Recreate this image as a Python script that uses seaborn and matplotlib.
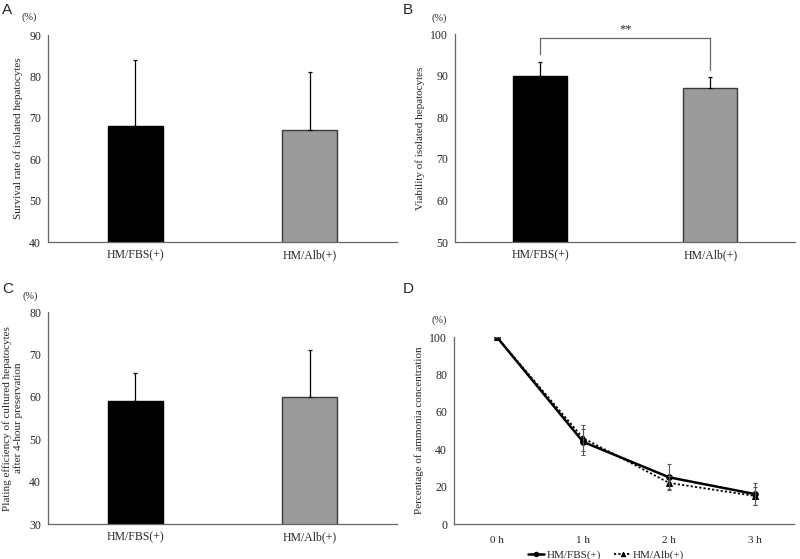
import matplotlib
matplotlib.use("Agg")
import matplotlib.pyplot as plt
import seaborn as sns
import pandas as pd

# data
groups = ["HM/FBS(+)", "HM/Alb(+)"]
survival = [68, 67]
survival_sd = [16, 14]
viability = [90, 87]
viability_sd = [3.3, 2.8]
plating = [59, 60]
plating_sd = [6.7, 11]

hours = ["0 h", "1 h", "2 h", "3 h"]
ammonia_fbs = [100, 44, 25, 16]
ammonia_fbs_sd = [0, 7, 7, 6]
ammonia_alb = [100, 46, 22, 15]
ammonia_alb_sd = [0, 7, 3.5, 5]

sns.set_style("white")
plt.rcParams["font.family"] = ["Liberation Serif", "DejaVu Serif"]
plt.rcParams["font.size"] = 8

bar_colors = ["#000000", "#9b9b9b"]
edge_colors = ["#000000", "#3a3a3a"]
spine_col = "#666666"

fig = plt.figure(figsize=(8, 5.59), dpi=100)


def bar_panel(rect, vals, sds, ylim, step, ylabel):
    ax = fig.add_axes(rect)
    df = pd.DataFrame({"group": groups, "value": vals})
    sns.barplot(data=df, x="group", y="value", hue="group", palette=bar_colors,
                width=0.315, legend=False, ax=ax, saturation=1, errorbar=None)
    for i, p in enumerate(ax.patches):
        p.set_edgecolor(edge_colors[i])
        p.set_linewidth(1.0)
    for i, (v, s) in enumerate(zip(vals, sds)):
        ax.errorbar(i, v, yerr=[[0], [s]], fmt="none", ecolor="black",
                    elinewidth=0.9, capsize=1.5, capthick=0.9, zorder=1)
    ax.set_xlim(-0.5, 1.5)
    ax.set_ylim(*ylim)
    ax.set_yticks(range(ylim[0], ylim[1] + 1, step))
    ax.set_xlabel("")
    ax.set_ylabel(ylabel, fontsize=8, labelpad=4)
    ax.tick_params(axis="both", length=0, labelsize=8.5, pad=5)
    ax.tick_params(axis="x", pad=12)
    for lab in ax.get_xticklabels():
        lab.set_verticalalignment("baseline")
    for sp in ["top", "right"]:
        ax.spines[sp].set_visible(False)
    for sp in ["left", "bottom"]:
        ax.spines[sp].set_color(spine_col)
        ax.spines[sp].set_linewidth(0.9)
    return ax


ax_a = bar_panel([0.06, 0.567, 0.436, 0.370], survival, survival_sd, (40, 90), 10,
                 "Survival rate of isolated hepatocytes")
ax_b = bar_panel([0.569, 0.567, 0.425, 0.372], viability, viability_sd, (50, 100), 10,
                 "Viability of isolated hepatocytes")
ax_c = bar_panel([0.06, 0.0626, 0.436, 0.379], plating, plating_sd, (30, 80), 10,
                 "Plating efficiency of cultured hepatocytes\nafter 4-hour preservation")

# significance bracket in B
ax_b.plot([0, 0, 1, 1], [95.2, 99.0, 99.0, 91.3], color="#666666", lw=0.9, clip_on=False)
ax_b.text(0.5, 99.6, "**", ha="center", va="bottom", fontsize=9)

# D: ammonia line chart
ax_d = fig.add_axes([0.5675, 0.0626, 0.425, 0.334])
xs = list(range(len(hours)))
sns.lineplot(x=xs, y=ammonia_fbs, color="black", lw=1.8, marker="o", markersize=4,
             markeredgecolor="black", ax=ax_d, label="HM/FBS(+)")
sns.lineplot(x=xs, y=ammonia_alb, color="black", lw=1.3, linestyle=(0, (1.2, 1.2)),
             marker="^", markersize=4, markeredgecolor="black", ax=ax_d, label="HM/Alb(+)")
ax_d.errorbar(xs, ammonia_fbs, yerr=ammonia_fbs_sd, fmt="none", ecolor="#555555",
              elinewidth=0.8, capsize=1.5, capthick=0.8)
ax_d.errorbar(xs, ammonia_alb, yerr=ammonia_alb_sd, fmt="none", ecolor="#555555",
              elinewidth=0.8, capsize=1.5, capthick=0.8)
ax_d.set_xlim(-0.5, 3.45)
ax_d.set_ylim(0, 100)
ax_d.set_yticks(range(0, 101, 20))
ax_d.set_xticks(xs)
ax_d.set_xticklabels(hours)
ax_d.set_ylabel("Percentage of ammonia concentration", fontsize=8, labelpad=4)
ax_d.tick_params(axis="both", length=0, labelsize=8.5, pad=5)
ax_d.tick_params(axis="x", labelsize=8, pad=8.5)
for sp in ["top", "right"]:
    ax_d.spines[sp].set_visible(False)
for sp in ["left", "bottom"]:
    ax_d.spines[sp].set_color(spine_col)
    ax_d.spines[sp].set_linewidth(0.9)
ax_d.legend(loc="center", bbox_to_anchor=(0.447, -0.168), ncol=2, frameon=False,
            fontsize=8, handlelength=1.5, handletextpad=0.2, columnspacing=1.2,
            borderpad=0, borderaxespad=0, markerscale=0.8)

# "(%)" unit labels and panel letters
for x, y in [(29, 17), (439, 18), (30, 296), (439, 320)]:
    fig.text(x / 800, 1 - y / 559, "(%)", ha="center", va="center", fontsize=7.5)
for x, y, lab in [(2, 10, "A"), (403, 10, "B"), (2, 289, "C"), (403, 289, "D")]:
    fig.text(x / 800, 1 - y / 559, lab, ha="left", va="center", fontsize=11,
             family=["Liberation Sans", "DejaVu Sans"])

plt.savefig("out.png", dpi=100)
